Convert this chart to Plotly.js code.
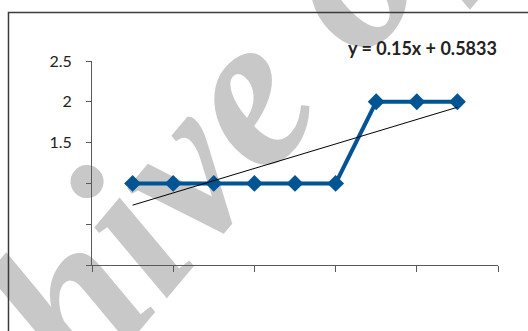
<!DOCTYPE html>
<html>
<head>
<meta charset="utf-8">
<script src="https://cdn.plot.ly/plotly-3.0.1.min.js"></script>
<style>
  html, body { margin: 0; padding: 0; background: #ffffff; }
  #chart { width: 528px; height: 331px; }
</style>
</head>
<body>
<div id="chart"></div>
<script>
// Series values (x = observation index, y = measured level)
const xValues = [1, 2, 3, 4, 5, 6, 7, 8, 9];
const yValues = [1, 1, 1, 1, 1, 1, 2, 2, 2];

// Linear trendline as printed on the chart
const trendSlope = 0.15;
const trendIntercept = 0.5833;
const trendX = [1, 9];

// Axis ticks
const yTickVals = [0, 0.5, 1, 1.5, 2, 2.5];
const yTickText = ["", "", "", "1.5", "2", "2.5"];
const xTickVals = [0, 2, 4, 6, 8, 10];

const watermarkText = "Archive of SID";

const trendY = trendX.map(x => trendSlope * x + trendIntercept);
const equationText = "y = " + trendSlope + "x + " + trendIntercept;

const axisColor = "#5a5a5a";
const seriesColor = "#005493";

const traces = [
  {
    x: xValues,
    y: yValues,
    type: "scatter",
    mode: "lines+markers",
    line: { color: seriesColor, width: 4 },
    marker: { symbol: "diamond", size: 13, color: seriesColor },
    hoverinfo: "skip"
  },
  {
    x: trendX,
    y: trendY,
    type: "scatter",
    mode: "lines",
    line: { color: "#000000", width: 1 },
    hoverinfo: "skip"
  }
];

const layout = {
  width: 528,
  height: 331,
  margin: { l: 92, r: 30, t: 61, b: 66, pad: 0 },
  paper_bgcolor: "#ffffff",
  plot_bgcolor: "rgba(0,0,0,0)",
  showlegend: false,
  font: { family: "Lato, 'Open Sans', sans-serif", color: "#222222" },
  xaxis: {
    range: [0, 10],
    tickvals: xTickVals,
    showticklabels: false,
    ticks: "outside",
    ticklen: 6,
    tickcolor: axisColor,
    showline: true,
    linecolor: axisColor,
    linewidth: 1,
    showgrid: false,
    zeroline: false,
    fixedrange: true
  },
  yaxis: {
    range: [0, 2.5],
    tickvals: yTickVals,
    ticktext: yTickText,
    ticks: "outside",
    ticklen: 5,
    tickcolor: axisColor,
    ticklabelstandoff: 11,
    tickfont: { size: 16, color: "#222222" },
    showline: true,
    linecolor: axisColor,
    linewidth: 1,
    showgrid: false,
    zeroline: false,
    fixedrange: true
  },
  shapes: [
    // watermark, drawn beneath the plot
    {
      type: "line",
      xref: "paper", yref: "paper",
      x0: 0.188, y0: 0.636, x1: 0.528, y1: 1.356,
      layer: "below",
      line: { width: 0, color: "rgba(0,0,0,0)" },
      label: {
        text: watermarkText,
        textposition: "middle",
        textangle: -50,
        xanchor: "center",
        yanchor: "middle",
        font: { family: "'Liberation Serif', 'DejaVu Serif', serif", size: 220, color: "#c8c8c8", weight: "bold", style: "italic" }
      }
    },
    // chart frame
    {
      type: "rect",
      xref: "paper", yref: "paper",
      x0: -0.2057, y0: -0.40, x1: 1.12, y1: 1.2377,
      line: { color: "#3c3c3c", width: 1.5 },
      fillcolor: "rgba(0,0,0,0)"
    }
  ],
  annotations: [
    {
      text: "<b>" + equationText + "</b>",
      xref: "paper", yref: "paper",
      x: 0.815, y: 1.063,
      xanchor: "center", yanchor: "middle",
      showarrow: false,
      font: { family: "Lato, 'Open Sans', sans-serif", size: 18, color: "#222222" }
    }
  ]
};

Plotly.newPlot("chart", traces, layout, { displayModeBar: false, staticPlot: true });
</script>
</body>
</html>
